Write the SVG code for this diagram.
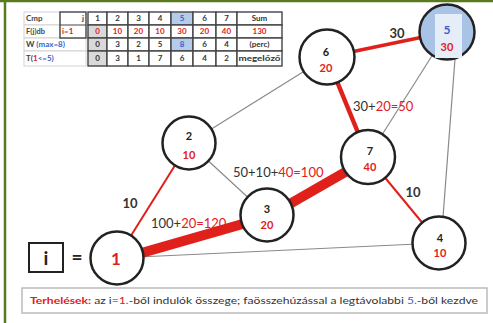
<svg xmlns="http://www.w3.org/2000/svg" width="493" height="323" viewBox="0 0 493 323">
<style>
text{font-family:Lato,"Open Sans","Liberation Sans",sans-serif;}
.cell{fill:#fff;stroke:#444;stroke-width:1.4}
.g{fill:#d9d9d9}
.b{fill:#b4cbe9}
.lbl{fill:#fff;stroke:#c8c8c8;stroke-width:0.8}
.t{font-size:8px;font-weight:bold;text-anchor:middle;fill:#333}
.r{fill:#e0201b}
.bl{fill:#3a5fcd}
.gray{stroke:#8a8a8a;stroke-width:1.2;fill:none}
.red{stroke:#e0201b;fill:none}
.node{fill:#fff;stroke:#222;stroke-width:2.5}
.nn{font-size:11px;font-weight:bold;text-anchor:middle;fill:#222}
.nv{font-size:11px;font-weight:bold;text-anchor:middle;fill:#e0201b}
.el{font-size:13px;fill:#333}
</style>
<rect x="0" y="0" width="493" height="323" fill="#fff"/>
<line x1="0" y1="1" x2="493" y2="1" stroke="#5a7a1e" stroke-width="2.5"/>
<line x1="5" y1="0" x2="5" y2="323" stroke="#5a7a1e" stroke-width="2.5"/>

<g id="table">
  <rect class="lbl" x="24" y="12" width="36" height="13"/>
  <rect class="lbl" x="24" y="25" width="36" height="13"/>
  <rect class="lbl" x="24" y="38" width="62" height="13"/>
  <rect class="lbl" x="24" y="51" width="62" height="15"/>
  <rect x="60" y="12" width="26" height="26" fill="#fff" stroke="#444" stroke-width="1.4"/>
  <line x1="60" y1="25" x2="86" y2="25" stroke="#444" stroke-width="1"/>
  <text x="26" y="21" font-size="8" font-weight="bold" fill="#444">Cmp</text>
  <text x="84" y="21" font-size="8" font-weight="bold" fill="#444" text-anchor="end">j</text>
  <text x="26" y="34" font-size="7.5" font-weight="bold" fill="#444">F(j)db</text>
  <text x="62" y="34" font-size="8" font-weight="bold" class="r">i=1</text>
  <text x="26" y="47" font-size="8" font-weight="bold" fill="#444">W <tspan class="bl">(max=8)</tspan></text>
  <text x="26" y="61" font-size="8" font-weight="bold" fill="#444">T(<tspan class="r">1</tspan><tspan class="bl">&lt;=5)</tspan></text>

  <!-- Cmp row -->
  <rect class="cell" x="88" y="12" width="19" height="13"/>
  <rect class="cell" x="107" y="12" width="21" height="13"/>
  <rect class="cell" x="128" y="12" width="21" height="13"/>
  <rect class="cell" x="149" y="12" width="22" height="13"/>
  <rect class="cell b" x="171" y="12" width="22" height="13"/>
  <rect class="cell" x="193" y="12" width="23" height="13"/>
  <rect class="cell" x="216" y="12" width="21" height="13"/>
  <rect class="cell" x="237" y="12" width="45" height="13"/>
  <!-- F row -->
  <rect class="cell g" x="88" y="25" width="19" height="13"/>
  <rect class="cell" x="107" y="25" width="21" height="13"/>
  <rect class="cell" x="128" y="25" width="21" height="13"/>
  <rect class="cell" x="149" y="25" width="22" height="13"/>
  <rect class="cell" x="171" y="25" width="22" height="13"/>
  <rect class="cell" x="193" y="25" width="23" height="13"/>
  <rect class="cell" x="216" y="25" width="21" height="13"/>
  <rect class="cell" x="237" y="25" width="45" height="13"/>
  <!-- W row -->
  <rect class="cell g" x="88" y="38" width="19" height="13"/>
  <rect class="cell" x="107" y="38" width="21" height="13"/>
  <rect class="cell" x="128" y="38" width="21" height="13"/>
  <rect class="cell" x="149" y="38" width="22" height="13"/>
  <rect class="cell b" x="171" y="38" width="22" height="13"/>
  <rect class="cell" x="193" y="38" width="23" height="13"/>
  <rect class="cell" x="216" y="38" width="21" height="13"/>
  <rect class="cell" x="237" y="38" width="45" height="13"/>
  <!-- T row -->
  <rect class="cell g" x="88" y="51" width="19" height="15"/>
  <rect class="cell" x="107" y="51" width="21" height="15"/>
  <rect class="cell" x="128" y="51" width="21" height="15"/>
  <rect class="cell" x="149" y="51" width="22" height="15"/>
  <rect class="cell" x="171" y="51" width="22" height="15"/>
  <rect class="cell" x="193" y="51" width="23" height="15"/>
  <rect class="cell" x="216" y="51" width="21" height="15"/>
  <rect class="cell" x="237" y="51" width="45" height="15"/>

  <text class="t" y="21"><tspan x="97.5">1</tspan><tspan x="117.5">2</tspan><tspan x="138.5">3</tspan><tspan x="160">4</tspan><tspan x="182" class="bl">5</tspan><tspan x="204.5">6</tspan><tspan x="226.5">7</tspan><tspan x="259.5">Sum</tspan></text>
  <text class="t r" y="34"><tspan x="97.5">0</tspan><tspan x="117.5">10</tspan><tspan x="138.5">20</tspan><tspan x="160">10</tspan><tspan x="182">30</tspan><tspan x="204.5">20</tspan><tspan x="226.5">40</tspan><tspan x="259.5">130</tspan></text>
  <text class="t" y="47"><tspan x="97.5">0</tspan><tspan x="117.5">3</tspan><tspan x="138.5">2</tspan><tspan x="160">5</tspan><tspan x="182" class="bl">8</tspan><tspan x="204.5">6</tspan><tspan x="226.5">4</tspan><tspan x="259.5">(perc)</tspan></text>
  <text class="t" y="61"><tspan x="97.5">0</tspan><tspan x="117.5">3</tspan><tspan x="138.5">1</tspan><tspan x="160">7</tspan><tspan x="182">6</tspan><tspan x="204.5">4</tspan><tspan x="226.5">2</tspan></text>
  <text x="259.5" y="61" font-size="7" font-weight="bold" fill="#333" text-anchor="middle" textLength="42" lengthAdjust="spacingAndGlyphs">megelőző</text>
</g>

<g id="connectors">
  <line class="gray" x1="189" y1="143" x2="327" y2="57"/>
  <line class="gray" x1="189" y1="143" x2="267" y2="215"/>
  <line class="gray" x1="117" y1="258" x2="439" y2="243"/>
  <line class="gray" x1="447" y1="32" x2="368" y2="157"/>
  <line class="gray" x1="455" y1="59" x2="443" y2="217"/>
  <line class="red" stroke-width="2" x1="189" y1="143" x2="117" y2="258"/>
  <line class="red" stroke-width="2" x1="368" y1="157" x2="439" y2="243"/>
  <line class="red" stroke-width="3.5" x1="327" y1="57" x2="447" y2="32"/>
  <line class="red" stroke-width="4.5" x1="327" y1="57" x2="368" y2="157"/>
  <line class="red" stroke-width="10" x1="117" y1="260" x2="267" y2="217"/>
  <line class="red" stroke-width="10" x1="267" y1="217" x2="368" y2="159"/>
  <text class="el r" x="397" y="38" font-weight="bold" text-anchor="middle">30</text>
  <text class="el" x="353" y="111">30+<tspan class="r">20=50</tspan></text>
  <text class="el" x="233" y="177">50+10+<tspan class="r">40=100</tspan></text>
  <text class="el" x="151" y="228">100+<tspan class="r">20=120</tspan></text>
  <text class="el r" x="130" y="208" font-weight="bold" text-anchor="middle" font-size="12">10</text>
  <text class="el r" x="413" y="197" font-weight="bold" text-anchor="middle" font-size="12">10</text>
</g>

<g id="node1"><circle class="node" cx="117" cy="258" r="26.5"/><text x="116" y="265" font-size="17" font-weight="bold" text-anchor="middle" class="r">1</text></g>
<g id="node2"><circle class="node" cx="189" cy="143" r="26.5"/><text class="nn" x="189" y="140">2</text><text class="nv" x="189" y="159">10</text></g>
<g id="node3"><circle class="node" cx="267" cy="215" r="26.5"/><text class="nn" x="267" y="213">3</text><text class="nv" x="267" y="229">20</text></g>
<g id="node4"><circle class="node" cx="439" cy="243" r="26.5"/><text class="nn" x="440" y="242">4</text><text class="nv" x="440" y="257">10</text></g>
<g id="node5"><circle class="node" cx="447" cy="32" r="27.5" style="fill:#a8c3e6"/><rect x="435" y="14" width="27" height="44" fill="#e4edf8"/><text x="447" y="34" font-size="12" font-weight="bold" text-anchor="middle" class="bl">5</text><text class="nv" x="447" y="51">30</text></g>
<g id="node6"><circle class="node" cx="327" cy="57" r="27.5"/><text class="nn" x="326" y="56">6</text><text class="nv" x="326" y="72">20</text></g>
<g id="node7"><circle class="node" cx="368" cy="157" r="27"/><text class="nn" x="370" y="155">7</text><text class="nv" x="370" y="171">40</text></g>

<g id="inode">
  <rect x="29" y="243" width="34" height="29" fill="#fff" stroke="#222" stroke-width="2"/>
  <text x="46" y="265" font-size="19" font-weight="bold" text-anchor="middle" fill="#222">i</text>
  <text x="77" y="264" font-size="19" font-weight="bold" text-anchor="middle" fill="#222">=</text>
</g>

<g id="footer">
  <rect x="22" y="288" width="465" height="25" fill="#fff" stroke="#bbb" stroke-width="1.5"/>
  <text x="30" y="304" font-size="10" fill="#333" textLength="448" lengthAdjust="spacingAndGlyphs"><tspan class="r" font-weight="bold">Terhelések:</tspan> az i=<tspan class="r">1.</tspan>-ből indulók összege; faösszehúzással a legtávolabbi <tspan class="bl">5.</tspan>-ből kezdve</text>
</g>
</svg>
